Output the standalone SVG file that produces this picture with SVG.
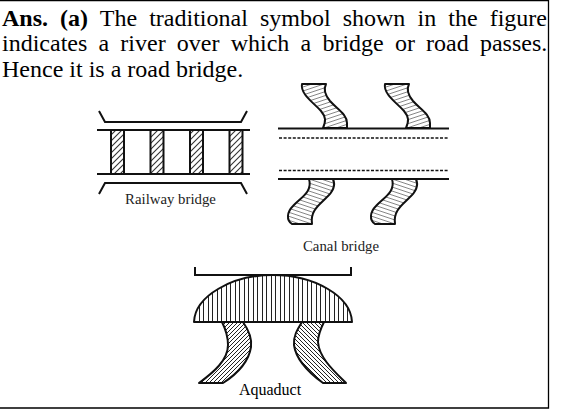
<svg xmlns="http://www.w3.org/2000/svg" width="569" height="418" viewBox="0 0 569 418">
<style>
text{font-family:"Liberation Serif","Times New Roman",serif;fill:#000}
.body{font-size:24px}
.cap{font-size:14.800px;fill:#222}
.ln{fill:none;stroke:#111;stroke-width:2}
.dash{fill:none;stroke:#111;stroke-width:1.6;stroke-dasharray:3 1.6}
.pier{fill:url(#h45);stroke:#111;stroke-width:2}
.bank{stroke:#111;stroke-width:2;stroke-linejoin:round}
</style>
<defs>
<pattern id="h45" width="6" height="6" patternUnits="userSpaceOnUse"><rect width="6" height="6" fill="#fff"/><path d="M-1 1L1 -1M0 6L6 0M5 7L7 5" stroke="#333" stroke-width="1.1" fill="none"/></pattern>
<pattern id="dense" width="4" height="4" patternUnits="userSpaceOnUse"><rect width="4" height="4" fill="#fff"/><path d="M-1 1L1 -1M0 4L4 0M3 5L5 3" stroke="#222" stroke-width="1" fill="none"/></pattern>
<pattern id="denseB" width="4" height="4" patternUnits="userSpaceOnUse"><rect width="4" height="4" fill="#fff"/><path d="M-1 3L1 5M0 0L4 4M3 -1L5 1" stroke="#222" stroke-width="1" fill="none"/></pattern>
<pattern id="canal" width="12" height="4" patternUnits="userSpaceOnUse"><rect width="12" height="4" fill="#fff"/><path d="M0 4L12 0M0 0L3 -1M9 5L12 4" stroke="#666" stroke-width="0.8" fill="none"/></pattern>
<pattern id="canalB" width="12" height="4" patternUnits="userSpaceOnUse"><rect width="12" height="4" fill="#fff"/><path d="M0 0L12 4M0 4L3 5M9 -1L12 0" stroke="#666" stroke-width="0.8" fill="none"/></pattern>
<pattern id="vert" width="9" height="5" patternUnits="userSpaceOnUse"><rect width="9" height="5" fill="#fff"/><rect x="1" width="1" height="5" fill="#222"/><rect x="5" width="1" height="5" fill="#222"/></pattern>
<path id="bankTop" d="M302 84H326C323 90 325 95 330 101C337 109 347 114 347 123V128H323C326 121 326 117 321 111C314 103 300 94 302 84Z"/>
<path id="bankBot" d="M309 179H333C336 186 333 192 326 198C319 205 310 211 312 224H292C286 220 287 212 293 206C300 198 313 192 309 179Z"/>
</defs>
<rect id="paper" x="0" y="0" width="548" height="408" fill="#fff"/>
<path id="frame" d="M0 0.500H548.500V408H0" fill="none" stroke="#000" stroke-width="1.3"/>
<g id="answer-text">
<text class="body" x="2" y="26" word-spacing="6.1"><tspan font-weight="bold">Ans. (a)</tspan> The traditional symbol shown in the figure</text>
<text class="body" x="2" y="51" word-spacing="5.2">indicates a river over which a bridge or road passes.</text>
<text class="body" x="2" y="77">Hence it is a road bridge.</text>
</g>
<g id="railway-bridge">
<rect class="pier" x="111" y="130" width="13" height="44"/>
<rect class="pier" x="150.500" y="130" width="13" height="44"/>
<rect class="pier" x="190" y="130" width="13" height="44"/>
<rect class="pier" x="229.500" y="130" width="13" height="44"/>
<path class="ln" d="M97 130H250M97 174H250"/>
<path class="ln" d="M99 111L105 122H241L247 111M99 194L105 183H241L247 194"/>
<text class="cap" x="170.500" y="204" text-anchor="middle">Railway bridge</text>
</g>
<g id="canal-bridge">
<use href="#bankTop" class="bank" fill="url(#canal)"/>
<use href="#bankTop" class="bank" fill="url(#canal)" x="83"/>
<use href="#bankBot" class="bank" fill="url(#canalB)"/>
<use href="#bankBot" class="bank" fill="url(#canalB)" x="83"/>
<path class="ln" d="M278 128.500H449M278 179H449"/>
<path class="dash" d="M279 138H449M279 170.500H449"/>
<text class="cap" x="341" y="251" text-anchor="middle">Canal bridge</text>
</g>
<g id="aquaduct">
<path class="ln" d="M195 267V275H351V267"/>
<path class="bank" fill="url(#dense)" d="M222 322H243C250 332 252 340 251 347C249 360 240 372 223 383H199C214 372 228 360 228 345C228 337 226 330 222 322Z"/>
<path class="bank" fill="url(#denseB)" d="M302 322H324C320 330 318 336 318 342C319 358 335 372 346 383H323C308 372 296 360 294 345C293 337 297 330 302 322Z"/>
<path class="bank" fill="url(#vert)" d="M194 322C195 296 232 275 273 275C314 275 351 296 352 322Z"/>
<text x="270" y="395" font-size="16" fill="#222" text-anchor="middle">Aquaduct</text>
</g>
</svg>
